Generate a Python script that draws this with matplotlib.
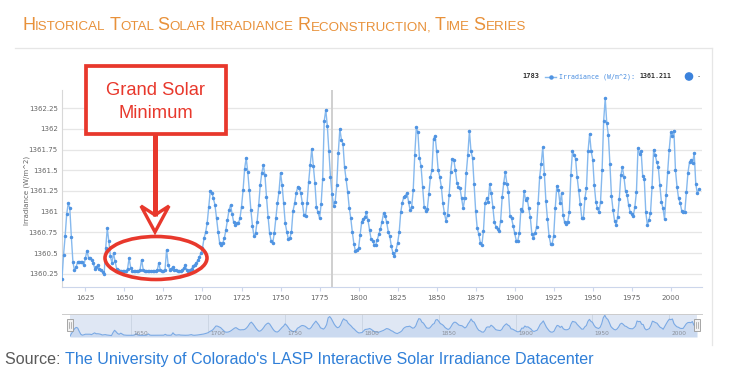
import matplotlib
matplotlib.use("Agg")
import matplotlib.pyplot as plt
from matplotlib.patches import Rectangle, Ellipse, Polygon, Circle

# ---------------- data ----------------
start_year = 1610
tsi_1610s = [1360.19, 1360.48, 1360.70, 1360.97, 1361.10, 1361.04, 1360.69, 1360.39, 1360.29, 1360.33,
             1360.39, 1360.39, 1360.39, 1360.39, 1360.35, 1360.44, 1360.53, 1360.44, 1360.44, 1360.42,
             1360.38, 1360.31, 1360.33, 1360.35, 1360.31, 1360.29, 1360.27, 1360.25, 1360.56, 1360.80,
             1360.64, 1360.46, 1360.38, 1360.50, 1360.40, 1360.31, 1360.29, 1360.28, 1360.28, 1360.28,
             1360.28, 1360.28, 1360.31, 1360.44, 1360.32, 1360.28, 1360.28, 1360.28, 1360.28, 1360.28,
             1360.30, 1360.42, 1360.30, 1360.28, 1360.28, 1360.28, 1360.28, 1360.28, 1360.28, 1360.28,
             1360.28, 1360.29, 1360.38, 1360.29, 1360.28, 1360.28, 1360.30, 1360.54, 1360.36, 1360.30,
             1360.31, 1360.33, 1360.30, 1360.29, 1360.28, 1360.28, 1360.28, 1360.29, 1360.32, 1360.35,
             1360.29, 1360.28, 1360.29, 1360.31, 1360.34, 1360.36, 1360.38, 1360.41, 1360.45, 1360.50]
tsi_1700s = [1360.56, 1360.68, 1360.75, 1360.86, 1361.06, 1361.25, 1361.23, 1361.16, 1361.08, 1360.92,
             1360.76, 1360.62, 1360.60, 1360.62, 1360.68, 1360.78, 1360.90, 1361.02, 1361.08, 1360.97,
             1360.87, 1360.84, 1360.86, 1360.86, 1360.92, 1361.06, 1361.26, 1361.52, 1361.65, 1361.48,
             1361.26, 1361.02, 1360.83, 1360.70, 1360.74, 1360.88, 1361.08, 1361.32, 1361.47, 1361.56,
             1361.44, 1361.18, 1360.94, 1360.74, 1360.64, 1360.62, 1360.74, 1360.92, 1361.10, 1361.24,
             1361.47, 1361.32, 1361.10, 1360.86, 1360.76, 1360.67, 1360.68, 1360.76, 1361.01, 1361.10,
             1361.22, 1361.30, 1361.28, 1361.22, 1361.10, 1360.96, 1360.95, 1361.10, 1361.36, 1361.56,
             1361.76, 1361.55, 1361.35, 1361.06, 1360.99, 1360.92, 1361.09, 1361.40, 1362.10, 1362.23,
             1362.03, 1361.73, 1361.42, 1361.211, 1361.07, 1361.12, 1361.32, 1361.71, 1362.00, 1361.87,
             1361.82, 1361.54, 1361.39, 1361.24, 1361.05, 1360.92, 1360.75, 1360.61, 1360.52, 1360.54]
tsi_1800s = [1360.56, 1360.72, 1360.88, 1360.91, 1360.93, 1360.99, 1360.90, 1360.78, 1360.67, 1360.65,
             1360.60, 1360.60, 1360.66, 1360.73, 1360.79, 1360.88, 1360.98, 1360.95, 1360.87, 1360.76,
             1360.70, 1360.58, 1360.50, 1360.46, 1360.54, 1360.62, 1360.75, 1360.99, 1361.11, 1361.18,
             1361.19, 1361.23, 1361.12, 1361.02, 1361.06, 1361.26, 1361.69, 1362.02, 1361.96, 1361.65,
             1361.55, 1361.30, 1361.06, 1361.01, 1361.03, 1361.21, 1361.42, 1361.50, 1361.88, 1361.92,
             1361.73, 1361.50, 1361.42, 1361.30, 1361.10, 1360.98, 1360.89, 1360.96, 1361.20, 1361.48,
             1361.64, 1361.63, 1361.50, 1361.35, 1361.30, 1361.28, 1361.16, 1361.04, 1361.16, 1361.47,
             1361.69, 1361.98, 1361.73, 1361.65, 1361.34, 1361.01, 1360.80, 1360.73, 1360.62, 1360.60,
             1360.77, 1361.10, 1361.16, 1361.12, 1361.33, 1361.22, 1361.06, 1360.87, 1360.82, 1360.79,
             1360.77, 1360.89, 1361.18, 1361.35, 1361.48, 1361.34, 1361.24, 1360.95, 1360.92, 1360.83]
tsi_1900s = [1360.74, 1360.65, 1360.65, 1360.74, 1361.03, 1361.01, 1361.25, 1361.14, 1361.16, 1361.04,
             1360.93, 1360.73, 1360.68, 1360.74, 1360.81, 1361.10, 1361.42, 1361.58, 1361.78, 1361.46,
             1361.13, 1360.91, 1360.71, 1360.61, 1360.61, 1360.71, 1361.05, 1361.31, 1361.26, 1361.10,
             1361.22, 1360.96, 1360.87, 1360.85, 1360.88, 1360.99, 1361.44, 1361.73, 1361.69, 1361.64,
             1361.42, 1361.26, 1361.09, 1360.92, 1360.92, 1361.16, 1361.29, 1361.73, 1361.94, 1361.73,
             1361.63, 1361.32, 1361.12, 1361.04, 1360.99, 1361.12, 1361.50, 1362.10, 1362.37, 1362.07,
             1361.93, 1361.58, 1361.19, 1361.02, 1360.89, 1360.84, 1360.94, 1361.15, 1361.44, 1361.54,
             1361.42, 1361.25, 1361.20, 1361.08, 1360.99, 1360.97, 1360.95, 1361.06, 1361.24, 1361.77,
             1361.70, 1361.73, 1361.43, 1361.40, 1360.99, 1360.84, 1360.90, 1360.98, 1361.30, 1361.75,
             1361.69, 1361.60, 1361.54, 1361.32, 1361.12, 1361.04, 1360.91, 1361.20, 1361.48, 1361.75]
tsi_2000s = [1361.96, 1361.91, 1361.98, 1361.50, 1361.30, 1361.16, 1361.11, 1361.01, 1360.99, 1361.00,
             1361.24, 1361.47, 1361.60, 1361.62, 1361.59, 1361.71, 1361.34, 1361.22, 1361.27]

tsi = tsi_1610s + tsi_1700s + tsi_1800s + tsi_1900s + tsi_2000s
years = list(range(start_year, start_year + len(tsi)))

x_ticks = [1625, 1650, 1675, 1700, 1725, 1750, 1775, 1800, 1825, 1850, 1875, 1900, 1925, 1950, 1975, 2000]
y_ticks = [1360.25, 1360.5, 1360.75, 1361, 1361.25, 1361.5, 1361.75, 1362, 1362.25]
y_tick_labels = ["1360.25", "1360.5", "1360.75", "1361", "1361.25", "1361.5", "1361.75", "1362", "1362.25"]
nav_ticks = [1650, 1700, 1750, 1800, 1850, 1900, 1950, 2000]

title = "Historical Total Solar Irradiance Reconstruction, Time Series"
y_title = "Irradiance (W/m^2)"
hover_year = "1783"
hover_series = "Irradiance (W/m^2): "
hover_value = "1361.211"
annotation = ["Grand Solar", "Minimum"]
source_label = "Source: "
source_text = "The University of Colorado's LASP Interactive Solar Irradiance Datacenter"

# ---------------- layout ----------------
W, H = 730, 388
fig = plt.figure(figsize=(W / 100, H / 100), dpi=100)
fig.patch.set_facecolor("white")


def rect(l, t, r, b):
    return [l / W, 1 - b / H, (r - l) / W, (b - t) / H]


RED = "#e8382c"
LINE = "#86b9ee"
MARK = "#5094e2"
GRAY = "#666666"

# main chart
ax = fig.add_axes(rect(62, 90, 702, 287))
ax.set_xlim(1610, 2020)
ax.set_ylim(1360.089, 1362.471)
for v in y_ticks:
    ax.axhline(v, color="#e6e6e6", lw=0.9, zorder=0)
ax.axvline(int(hover_year), color="#cfcfcf", lw=1.4, zorder=1)
ax.plot(years, tsi, color=LINE, lw=1.0, zorder=3)
ax.plot(years, tsi, ls="none", marker="o", ms=1.5, color=MARK, zorder=4)
ax.set_xticks(x_ticks)
ax.set_xticklabels([str(t) for t in x_ticks])
ax.set_yticks(y_ticks)
ax.set_yticklabels(y_tick_labels)
ax.tick_params(axis="y", length=0, labelsize=5.0, labelcolor=GRAY, pad=3)
ax.tick_params(axis="x", length=3, width=0.8, color="#ccd6eb", labelsize=5.2, labelcolor=GRAY, pad=3)
for s in ["top", "right"]:
    ax.spines[s].set_visible(False)
ax.spines["left"].set_color("#d8d8d8")
ax.spines["left"].set_linewidth(0.8)
ax.spines["bottom"].set_color("#ccd6eb")
ax.spines["bottom"].set_linewidth(0.8)
ax.set_facecolor("none")

# navigator
nav = fig.add_axes(rect(70, 314, 697, 337))
nav.set_xlim(1610, 2018)
nav.set_ylim(1360.1, 1362.5)
nav.set_facecolor("#dfe7f4")
nav.fill_between(years, tsi, 1360.1, color="#cbdaf0", lw=0)
nav.plot(years, tsi, color="#7aa9e4", lw=0.8)
for t in nav_ticks:
    nav.axvline(t, color="#c9d3e2", lw=0.6, zorder=0)
    nav.text(t + 1.5, 1360.18, str(t), fontsize=4.2, color="#8a8f99", va="bottom", ha="left")
nav.set_xticks([])
nav.set_yticks([])
for s in nav.spines.values():
    s.set_visible(False)

# overlay in pixel coordinates
ov = fig.add_axes([0, 0, 1, 1], zorder=10)
ov.set_xlim(0, W)
ov.set_ylim(H, 0)
ov.axis("off")
ov.patch.set_alpha(0)
renderer = fig.canvas.get_renderer()

# container borders
ov.plot([15, 712], [48, 48], color="#e6e6e6", lw=0.9)
ov.plot([712, 712], [48, 345], color="#e6e6e6", lw=0.9)
ov.plot([62, 702], [313.5, 313.5], color="#cccccc", lw=0.7)

# navigator handles
for hx in (70, 697):
    ov.add_patch(Rectangle((hx - 3, 319), 6, 12, facecolor="#f2f2f2", edgecolor="#999999", lw=0.6))
    ov.plot([hx - 1, hx - 1], [322, 328], color="#999999", lw=0.5)
    ov.plot([hx + 1, hx + 1], [322, 328], color="#999999", lw=0.5)

# title in small caps
def small_caps(x, y, text, big, small, color):
    for word in text.split(" "):
        pieces = [(word[0].upper(), big), (word[1:].upper(), small)]
        for s, fs in pieces:
            if not s:
                continue
            t = ov.text(x, y, s, fontsize=fs, color=color, family="Liberation Sans",
                        ha="left", va="baseline")
            x += t.get_window_extent(renderer).width
        x += small * 0.38
    return x

small_caps(22, 30, title, 13.0, 9.6, "#e8913a")

# y axis title
ov.text(27, 190, y_title, rotation=90, ha="center", va="center", fontsize=5.0, color=GRAY)

# hover legend
mono = "DejaVu Sans Mono"
ov.text(522, 78.5, hover_year, fontsize=5, family=mono, weight="bold", color="#333333", va="baseline")
ov.plot([545, 556], [76.5, 76.5], color=LINE, lw=1.0)
ov.plot([550.5], [76.5], marker="o", ms=2.2, color=MARK)
t = ov.text(559, 78.5, hover_series, fontsize=4.8, family=mono, color="#4a8ee0", va="baseline")
xe = 559 + t.get_window_extent(renderer).width
ov.text(xe, 78.5, hover_value, fontsize=4.8, family=mono, weight="bold", color="#333333", va="baseline")
ov.add_patch(Circle((689, 76.5), 3.6, color="#3b82dc"))
ov.text(697, 78.5, "-", fontsize=5, family=mono, color="#555555", va="baseline")

# annotation box
ov.add_patch(Rectangle((86, 66), 140, 68, facecolor="white", edgecolor=RED, lw=2.7))
ov.text(156, 95, annotation[0], ha="center", va="baseline", fontsize=13.2, color=RED,
        family="Liberation Sans")
ov.text(156, 118.5, annotation[1], ha="center", va="baseline", fontsize=13.2, color=RED,
        family="Liberation Sans")
# arrow shaft + open head
ov.plot([155, 155], [134, 216], color=RED, lw=3.6, solid_capstyle="butt")
ov.add_patch(Polygon([(141, 206), (155, 215), (169, 206), (155, 232)], closed=True,
                     facecolor="white", edgecolor=RED, lw=2.4, joinstyle="miter"))
# ellipse
ov.add_patch(Ellipse((156, 258), 102, 43, fill=False, edgecolor=RED, lw=2.6))

# source line
t1 = ov.text(5, 364, source_label, fontsize=11.6, color="#5a5a5a", family="Liberation Sans",
             ha="left", va="baseline")
x2 = 5 + t1.get_window_extent(renderer).width
ov.text(x2, 364, source_text, fontsize=11.6, color="#2f7fd8", family="Liberation Sans",
        ha="left", va="baseline")

fig.savefig("out.png", dpi=100, facecolor="white")
